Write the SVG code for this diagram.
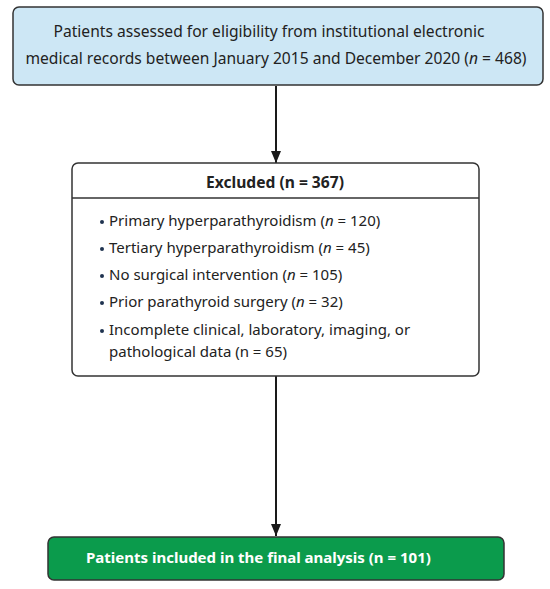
<svg xmlns="http://www.w3.org/2000/svg" width="550" height="589" viewBox="0 0 550 589">
<defs>
<marker id="ah" markerWidth="12" markerHeight="10" refX="12" refY="5" orient="auto" markerUnits="userSpaceOnUse">
<path d="M0,0 L12,5 L0,10 z" fill="#1a1a1a"/>
</marker>
<style>
text{font-family:"Noto Sans","Open Sans","DejaVu Sans",sans-serif;font-size:15px;fill:#222}
.l{font-size:15.6px}
.c{text-anchor:middle}
.b{font-weight:bold}
.i{font-style:italic}
.w{fill:#fff}
.box{stroke:#333;stroke-width:1.5}
.conn{stroke:#1a1a1a;stroke-width:2;fill:none}
.dot{fill:#1f3350}
</style>
</defs>
<rect width="550" height="589" fill="#fff"/>
<g id="connectors">
<line class="conn" x1="276" y1="86" x2="276" y2="163" marker-end="url(#ah)"/>
<line class="conn" x1="276" y1="376" x2="276" y2="536" marker-end="url(#ah)"/>
</g>
<g id="assessed">
<rect class="box" x="13" y="7" width="530" height="78" rx="6" fill="#cde7f5"/>
<text class="c l" x="269" y="37">Patients assessed for eligibility from institutional electronic</text>
<text class="c l" x="276" y="64">medical records between January 2015 and December 2020 (<tspan class="i">n</tspan> = 468)</text>
</g>
<g id="excluded">
<rect class="box" x="72" y="163" width="407" height="213" rx="6" fill="#fff"/>
<line class="box" x1="72" y1="198" x2="479" y2="198"/>
<text class="c b l" x="275" y="188">Excluded (n = 367)</text>
<circle class="dot" cx="102" cy="222" r="2"/>
<text x="109" y="226">Primary hyperparathyroidism (<tspan class="i">n</tspan> = 120)</text>
<circle class="dot" cx="102" cy="249" r="2"/>
<text x="109" y="253">Tertiary hyperparathyroidism (<tspan class="i">n</tspan> = 45)</text>
<circle class="dot" cx="102" cy="276" r="2"/>
<text x="109" y="280">No surgical intervention (<tspan class="i">n</tspan> = 105)</text>
<circle class="dot" cx="102" cy="303" r="2"/>
<text x="109" y="307">Prior parathyroid surgery (<tspan class="i">n</tspan> = 32)</text>
<circle class="dot" cx="102" cy="331" r="2"/>
<text x="109" y="335">Incomplete clinical, laboratory, imaging, or</text>
<text x="109" y="357">pathological data (n = 65)</text>
</g>
<g id="included">
<rect class="box" x="48" y="537" width="456" height="43" rx="6" fill="#0b9b4c"/>
<text class="b w" x="86" y="563">Patients included in the final analysis (n = 101)</text>
</g>
</svg>
